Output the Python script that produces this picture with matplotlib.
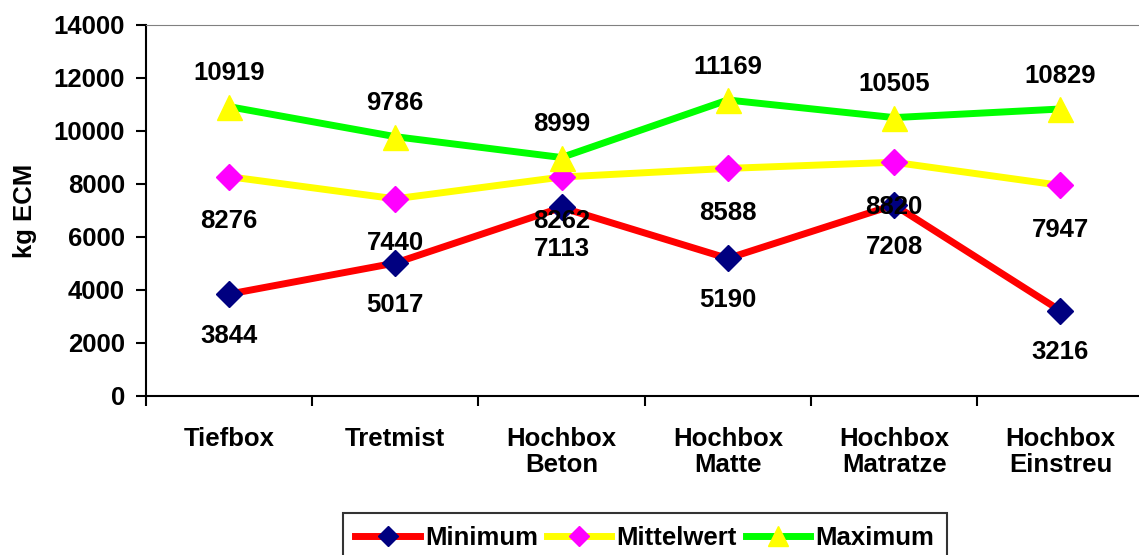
import matplotlib
matplotlib.use("Agg")
import matplotlib.pyplot as plt

plt.rcParams['font.family'] = ['Liberation Sans', 'DejaVu Sans']
plt.rcParams['font.weight'] = 'bold'

## Data
categories = ["Tiefbox", "Tretmist", "Hochbox\nBeton", "Hochbox\nMatte", "Hochbox\nMatratze", "Hochbox\nEinstreu"]
minimum = [3844, 5017, 7113, 5190, 7208, 3216]
mittelwert = [8276, 7440, 8262, 8588, 8820, 7947]
maximum = [10919, 9786, 8999, 11169, 10505, 10829]
yticks = [0, 2000, 4000, 6000, 8000, 10000, 12000, 14000]

x = list(range(len(categories)))
fs = 18.5

fig = plt.figure(figsize=(11.39, 5.55), dpi=100)
ax = fig.add_axes([0.128, 0.2865, 0.876, 0.6685])

ax.plot(x, minimum, color='#FF0000', linewidth=5, marker='D', markersize=13,
        markerfacecolor='#000080', markeredgecolor='#000080', label='Minimum', zorder=3)
ax.plot(x, mittelwert, color='#FFFF00', linewidth=5, marker='D', markersize=13,
        markerfacecolor='#FF00FF', markeredgecolor='#FF00FF', label='Mittelwert', zorder=2)
ax.plot(x, maximum, color='#00FF00', linewidth=5, marker='^', markersize=18,
        markerfacecolor='#FFFF00', markeredgecolor='#FFFF00', label='Maximum', zorder=2)

## value labels
for i in x:
    ax.annotate(str(maximum[i]), (i, maximum[i]), xytext=(0, 24), textcoords='offset points',
                ha='center', va='center', fontsize=fs, fontweight='bold', zorder=5)
    ax.annotate(str(mittelwert[i]), (i, mittelwert[i]), xytext=(0, -32), textcoords='offset points',
                ha='center', va='center', fontsize=fs, fontweight='bold', zorder=5)
    ax.annotate(str(minimum[i]), (i, minimum[i]), xytext=(0, -30), textcoords='offset points',
                ha='center', va='center', fontsize=fs, fontweight='bold', zorder=5)

ax.set_xlim(-0.5, len(categories) - 0.5)
ax.set_ylim(0, 14000)
ax.set_yticks(yticks)
ax.set_yticklabels([str(v) for v in yticks], fontsize=fs, fontweight='bold')
ax.set_xticks([i + 0.5 for i in range(-1, len(categories))])
ax.set_xticklabels([])
ax.set_xticks(x, minor=True)
ax.set_xticklabels(categories, minor=True, fontsize=fs, fontweight='bold', linespacing=1.15)
ax.tick_params(axis='x', which='minor', length=0, pad=22)
ax.tick_params(axis='x', which='major', direction='out', length=7, width=1.5)
ax.tick_params(axis='y', direction='out', length=7, width=1.5, pad=8)

ax.spines['left'].set_linewidth(1.5)
ax.spines['bottom'].set_linewidth(1.5)
ax.spines['top'].set_color('#808080')
ax.spines['right'].set_visible(False)

ax.set_ylabel("kg ECM", fontsize=fs, fontweight='bold', labelpad=12)

leg = ax.legend(loc='upper center', bbox_to_anchor=(0.5, -0.315), ncol=3, frameon=True,
                fancybox=False, edgecolor='black', fontsize=fs, handlelength=2.5,
                handletextpad=0.2, columnspacing=0.35, borderpad=0.5, borderaxespad=0,
                markerscale=0.8)
leg.get_frame().set_linewidth(1.5)
for t in leg.get_texts():
    t.set_fontweight('bold')

plt.savefig("out.png", dpi=100)
